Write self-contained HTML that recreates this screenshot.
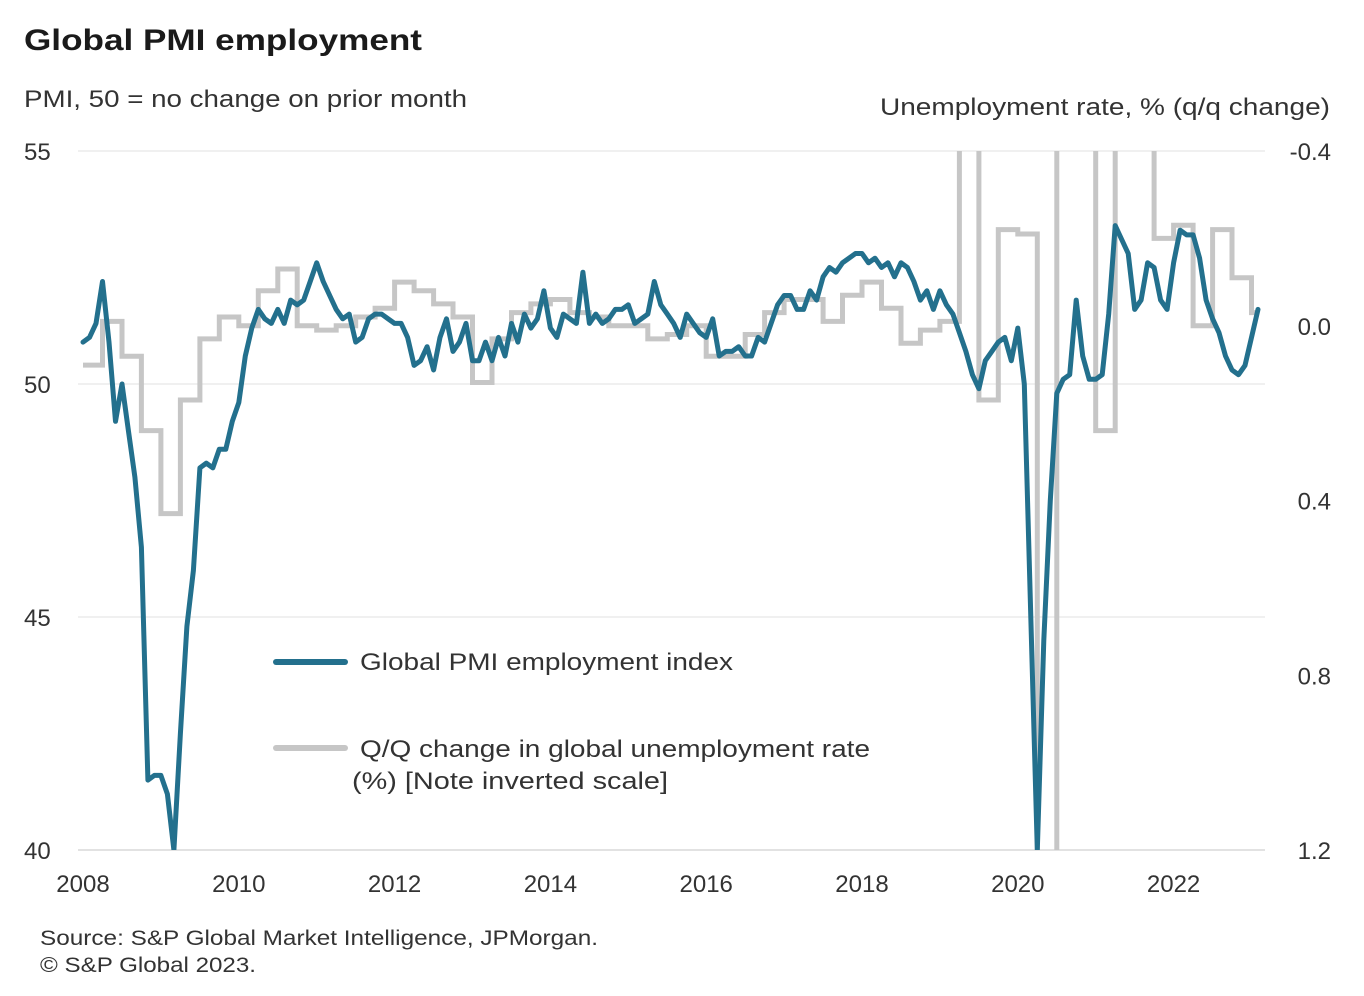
<!DOCTYPE html>
<html><head><meta charset="utf-8">
<style>
html,body{margin:0;padding:0;background:#fff;}
svg{display:block;font-family:"Liberation Sans",sans-serif;}
</style></head>
<body>
<svg id="chart" width="1364" height="996" viewBox="0 0 1364 996" xmlns="http://www.w3.org/2000/svg">
<defs><clipPath id="plotclip"><rect x="60" y="151" width="1220" height="699"/></clipPath></defs>
<text x="24" y="50" font-size="30" font-weight="bold" fill="#1a1a1a" textLength="398" lengthAdjust="spacingAndGlyphs">Global PMI employment</text>
<text x="24" y="107" font-size="24" fill="#333" textLength="443" lengthAdjust="spacingAndGlyphs">PMI, 50 = no change on prior month</text>
<text x="1330" y="115" font-size="24" fill="#333" text-anchor="end" textLength="450" lengthAdjust="spacingAndGlyphs">Unemployment  rate, % (q/q change)</text>
<g id="grid"></g>
<g id="yleft"></g>
<g id="yright"></g>
<g id="xaxis"></g>
<g id="series" clip-path="url(#plotclip)"></g>
<g>
<line x1="276" y1="662" x2="345" y2="662" stroke="#23708d" stroke-width="6" stroke-linecap="round"/>
<text x="360" y="670" font-size="24" fill="#333" textLength="373" lengthAdjust="spacingAndGlyphs">Global PMI employment index</text>
<line x1="276" y1="748" x2="345" y2="748" stroke="#c6c6c6" stroke-width="6" stroke-linecap="round"/>
<text x="360" y="757" font-size="24" fill="#333" textLength="510" lengthAdjust="spacingAndGlyphs">Q/Q change in global unemployment rate</text>
<text x="352" y="789" font-size="24" fill="#333" textLength="316" lengthAdjust="spacingAndGlyphs">(%)  [Note inverted scale]</text>
</g>
<text x="40" y="945" font-size="21" fill="#333" textLength="558" lengthAdjust="spacingAndGlyphs">Source: S&amp;P Global Market Intelligence, JPMorgan.</text>
<text x="40" y="972" font-size="21" fill="#333" textLength="216" lengthAdjust="spacingAndGlyphs">© S&amp;P Global 2023.</text>
</svg>
<script>
const pmiValues = [
50.9,51.0,51.3,52.2,50.9,49.2,50.0,49.0,48.0,46.5,41.5,41.6,
41.6,41.2,40.0,42.5,44.8,46.0,48.2,48.3,48.2,48.6,48.6,49.2,
49.6,50.6,51.2,51.6,51.4,51.3,51.6,51.3,51.8,51.7,51.8,52.2,
52.6,52.2,51.9,51.6,51.4,51.5,50.9,51.0,51.4,51.5,51.5,51.4,
51.3,51.3,51.0,50.4,50.5,50.8,50.3,51.0,51.4,50.7,50.9,51.3,
50.5,50.5,50.9,50.5,51.0,50.6,51.3,50.9,51.5,51.2,51.4,52.0,
51.2,51.0,51.5,51.4,51.3,52.4,51.3,51.5,51.3,51.4,51.6,51.6,
51.7,51.3,51.4,51.5,52.2,51.7,51.5,51.3,51.0,51.5,51.3,51.1,
51.0,51.4,50.6,50.7,50.7,50.8,50.6,50.6,51.0,50.9,51.3,51.7,
51.9,51.9,51.6,51.6,52.0,51.8,52.3,52.5,52.4,52.6,52.7,52.8,
52.8,52.6,52.7,52.5,52.6,52.3,52.6,52.5,52.2,51.8,52.0,51.6,
52.0,51.7,51.5,51.1,50.7,50.2,49.9,50.5,50.7,50.9,51.0,50.5,
51.2,50.0,45.0,40.0,44.5,47.5,49.8,50.1,50.2,51.8,50.6,50.1,
50.1,50.2,51.5,53.4,53.1,52.8,51.6,51.8,52.6,52.5,51.8,51.6,
52.6,53.3,53.2,53.2,52.7,51.8,51.4,51.1,50.6,50.3,50.2,50.4,
51.0,51.6];
const unempValues = [
0.09,-0.01,0.07,0.24, 0.43,0.17,0.03,-0.02, 0.0,-0.08,-0.13,0.0,
0.01,0.0,-0.02,-0.04, -0.1,-0.08,-0.05,-0.02, 0.13,0.03,-0.03,-0.05,
-0.06,-0.03,-0.02,0.0, 0.0,0.03,0.02,0.0, 0.07,0.07,0.02,-0.03,
-0.06,-0.06,-0.01,-0.07, -0.1,-0.04,0.04,0.01, -0.01,-0.6,0.17,-0.22,
-0.21,1.6,-0.7,-0.8, 0.24,-0.8,-0.8,-0.2, -0.23,0.0,-0.22,-0.11, -0.03];
const leftTicks = [55,50,45,40];
const rightTicks = [-0.4,0.0,0.4,0.8,1.2];
const yearLabels = [2008,2010,2012,2014,2016,2018,2020,2022];

const NS = "http://www.w3.org/2000/svg";
const xOfYear = t => 83 + (t - 2008) * 77.9;
const yLeft = v => 151 + (55 - v) * (699 / 15);
const yRight = v => 151 + (v + 0.4) * (699 / 1.6);
function mk(tag, attrs, parent){const e=document.createElementNS(NS,tag);for(const k in attrs)e.setAttribute(k,attrs[k]);parent.appendChild(e);return e;}

const grid=document.getElementById('grid');
leftTicks.forEach(v=>{
  const l=mk('line',{x1:78,x2:1265,y1:yLeft(v),y2:yLeft(v),stroke:v===40?'#d8d8d8':'#ebebeb','stroke-width':1.5},grid);
  
  
});
const yl=document.getElementById('yleft');
leftTicks.forEach(v=>{
  const t=mk('text',{x:24,y:yLeft(v)+9,'font-size':24,fill:'#333'},yl);
  t.textContent=String(v);
  
  
});
const yr=document.getElementById('yright');
rightTicks.forEach(v=>{
  const t=mk('text',{x:1331,y:yRight(v)+9,'font-size':24,fill:'#333','text-anchor':'end'},yr);
  t.textContent=v.toFixed(1);
  
  
});
const xa=document.getElementById('xaxis');
yearLabels.forEach(y=>{
  const t=mk('text',{x:xOfYear(y),y:892,'font-size':24,fill:'#333','text-anchor':'middle'},xa);
  t.textContent=String(y);
  
  
});

const ser=document.getElementById('series');
// unemployment step line (quarterly)
let d='';
unempValues.forEach((v,k)=>{
  const x0=xOfYear(2008+k*0.25), x1=Math.min(xOfYear(2008+(k+1)*0.25), xOfYear(2008+(pmiValues.length-1)/12));
  const y=yRight(v);
  d+=(k===0?'M':'L')+x0.toFixed(1)+','+y.toFixed(1)+'L'+x1.toFixed(1)+','+y.toFixed(1);
});
const gp=mk('path',{d:d,fill:'none',stroke:'#c6c6c6','stroke-width':5,'stroke-linejoin':'miter'},ser);


// PMI line (monthly)
let p='';
pmiValues.forEach((v,i)=>{p+=(i===0?'M':'L')+xOfYear(2008+i/12).toFixed(1)+','+yLeft(v).toFixed(1);});
const bp=mk('path',{d:p,fill:'none',stroke:'#23708d','stroke-width':5,'stroke-linejoin':'round','stroke-linecap':'round'},ser);


</script>
</body></html>
